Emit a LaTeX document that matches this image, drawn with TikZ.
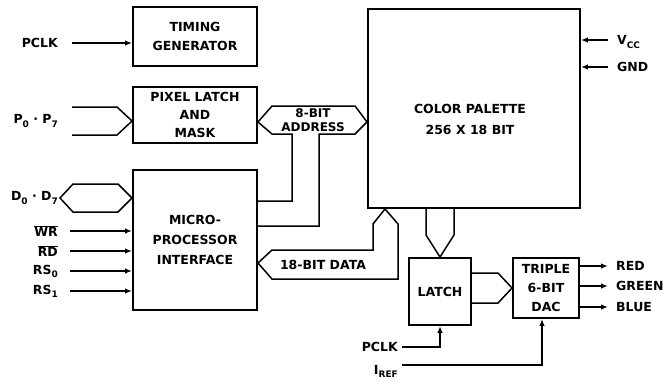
\documentclass[tikz,border=0pt]{standalone}
\usepackage{fontspec}
\setmainfont{DejaVu Sans}
\usetikzlibrary{arrows.meta,calc}
\newcommand\sbs[1]{\raisebox{-0.45ex}{\fontsize{9}{9}\selectfont #1}}
\newcommand\ovl[1]{$\overline{\hbox{#1}}$}
\begin{document}
\begin{tikzpicture}[x=1pt,y=-1pt,
  every node/.style={font=\fontsize{12.5}{19}\selectfont\bfseries, inner sep=0pt},
  blk/.style={draw, line width=1.9pt, align=center},
  wire/.style={line width=1.5pt},
  bus/.style={line width=1.5pt, line join=miter},
  sig/.style={wire, -{Latex[length=7pt,width=5.5pt]}},
  lbl/.style={anchor=east},
  rlbl/.style={anchor=west}]
\useasboundingbox (0,0) rectangle (663,381);
\fill[white] (0,0) rectangle (663,381);
% blocks
\node[blk, minimum width=124pt, minimum height=59pt] (tg) at (195,36.5) {TIMING\\GENERATOR};
\node[blk, minimum width=124pt, minimum height=56pt, font=\fontsize{12.5}{18}\selectfont\bfseries] (pl) at (195,115) {PIXEL LATCH\\AND\\MASK};
\node[blk, minimum width=124pt, minimum height=140pt, font=\fontsize{12.5}{20}\selectfont\bfseries] (mp) at (195,240) {MICRO-\\PROCESSOR\\INTERFACE};
\node[blk, minimum width=212pt, minimum height=199pt] (cp) at (474,108.5) {};
\node[align=center, font=\fontsize{12.5}{21}\selectfont\bfseries] (cpt) at (470,119) {COLOR PALETTE\\256 X 18 BIT};
\node[blk, minimum width=62pt, minimum height=67pt] (la) at (440,291.5) {LATCH};
\node[blk, minimum width=66pt, minimum height=60pt] (dac) at (546,288) {TRIPLE\\6-BIT\\DAC};
% left labels and inputs
\node[lbl] (pclk1) at (58,43) {PCLK};
\draw[sig] ($(pclk1.east)+(14,0)$) -- (tg.west |- pclk1.east);
\node[lbl] (pp) at (58,121) {P\sbs{0} · P\sbs{7}};
\draw[bus] ($(pp.east)+(14,-14)$) -- (117,107) -- (pl.west |- pp.east) -- (117,135) -- ($(pp.east)+(14,14)$);
\node[lbl] (dd) at (58,198) {D\sbs{0} · D\sbs{7}};
\draw[bus] ($(dd.east)+(2,0)$) -- (73,184) -- (118,184) -- (mp.west |- dd.east) -- (118,212) -- (73,212) -- cycle;
\node[lbl] (wr) at (58,231) {\ovl{WR}};
\node[lbl] (rd) at (58,251) {\ovl{RD}};
\node[lbl] (rs0) at (58,271) {RS\sbs{0}};
\node[lbl] (rs1) at (58,291) {RS\sbs{1}};
\foreach \s in {wr,rd,rs0,rs1}{
  \draw[sig] ($(\s.east)+(12,0)$) -- (mp.west |- \s.east);
}
% 8-bit address bus
\draw[bus] ($(pl.east)+(0,7)$) -- (272,106) -- (355,106) -- ($(cp.west)+(0,13.5)$) -- (355,134) -- (319,134) -- (319,226) -- ($(mp.east)+(0,-14)$);
\draw[bus] ($(pl.east)+(0,7)$) -- (272,134) -- (292,134) -- (292,201) -- ($(mp.east)+(0,-39)$);
\node[align=center, font=\fontsize{12}{14}\selectfont\bfseries] (ab) at (313,120) {8-BIT\\ADDRESS};
% 18-bit data bus
\draw[bus] ($(mp.east)+(0,23)$) -- (272,250) -- (373,250) -- (373,224) -- ($(cp.south)+(-89,0)$) -- (398,224) -- (398,279) -- (272,279) -- cycle;
\node (db) at (323,265) {18-BIT DATA};
% palette to latch
\draw[bus] ($(cp.south)+(-48,0)$) -- (426,235) -- (la.north) -- (454,235) -- ($(cp.south)+(-20,0)$);
% latch to DAC
\draw[bus] ($(la.east)+(0,-18.5)$) -- (498,273) -- (dac.west) -- (498,303) -- ($(la.east)+(0,11.5)$);
% bottom inputs
\node[lbl] (pclk2) at (398,347) {PCLK};
\draw[sig] ($(pclk2.east)+(4,0)$) -| (la.south);
\node[lbl] (iref) at (398,371) {I\sbs{REF}};
\draw[sig] ($(iref.east)+(4,-6)$) -| ($(dac.south)+(-4,0)$);
% power
\node[rlbl] (vcc) at (617,42) {V\sbs{CC}};
\draw[sig] ($(vcc.west)+(-9,-2)$) -- ($(cp.east)+(0,-68.5)$);
\node[rlbl] (gnd) at (617,67) {GND};
\draw[sig] ($(gnd.west)+(-9,0)$) -- ($(cp.east)+(0,-41.5)$);
% outputs
\node[rlbl] (red) at (616,266) {RED};
\node[rlbl] (green) at (616,286) {GREEN};
\node[rlbl] (blue) at (616,307) {BLUE};
\foreach \s in {red,green,blue}{
  \draw[sig] (dac.east |- \s.west) -- ($(\s.west)+(-8,0)$);
}
\end{tikzpicture}
\end{document}
